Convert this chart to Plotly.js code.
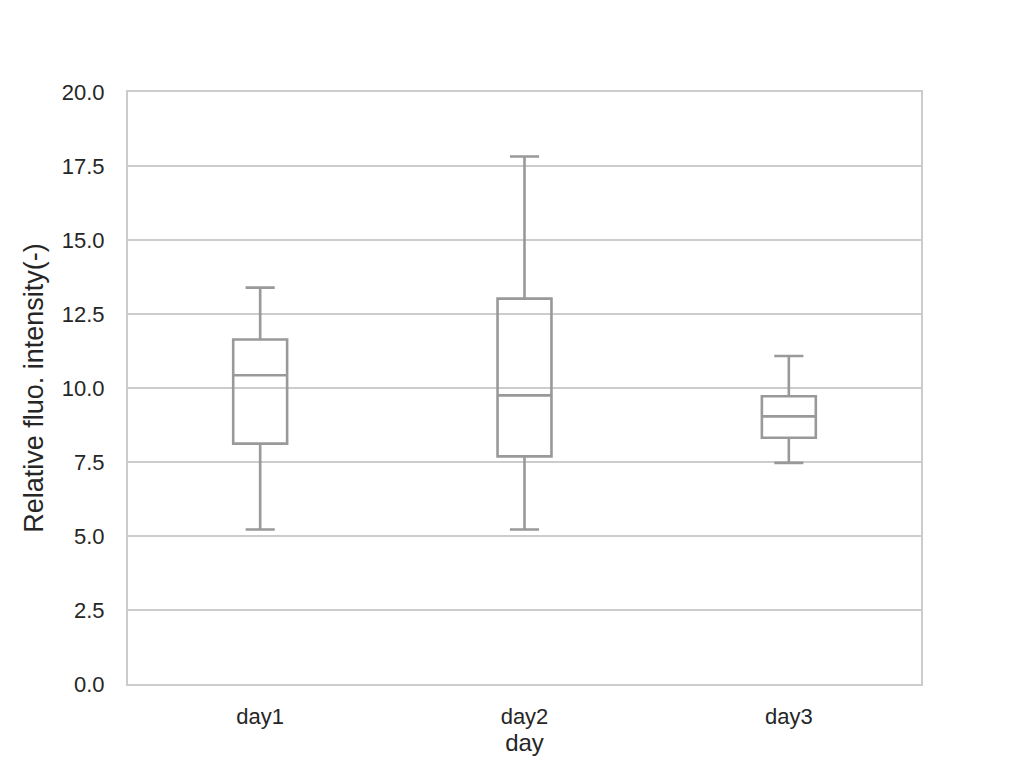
<!DOCTYPE html>
<html>
<head>
<meta charset="utf-8">
<script src="https://cdn.plot.ly/plotly-3.0.1.min.js"></script>
<style>html,body{margin:0;padding:0;background:#fff;}#chart{width:1024px;height:768px;}</style>
</head>
<body>
<div id="chart"></div>
<script>
const days = ["day1", "day2", "day3"];
const lowerWhisker = [5.22, 5.22, 7.47];
const q1 = [8.12, 7.69, 8.32];
const median = [10.43, 9.75, 9.04];
const q3 = [11.64, 13.02, 9.72];
const upperWhisker = [13.39, 17.82, 11.08];
const yTicks = [0, 2.5, 5, 7.5, 10, 12.5, 15, 17.5, 20];
const yTickLabels = ["0.0", "2.5", "5.0", "7.5", "10.0", "12.5", "15.0", "17.5", "20.0"];

const trace = {
  type: "box",
  x: days,
  q1: q1,
  median: median,
  q3: q3,
  lowerfence: lowerWhisker,
  upperfence: upperWhisker,
  boxpoints: false,
  width: 0.204,
  whiskerwidth: 0.54,
  fillcolor: "rgba(255,255,255,0)",
  line: {color: "#999999", width: 2.6},
  hoverinfo: "skip",
  showlegend: false
};

const font = {family: "Liberation Sans, Arial, sans-serif", size: 22, color: "#262626"};

const layout = {
  width: 1024, height: 768,
  margin: {l: 128, r: 103, t: 92, b: 84},
  paper_bgcolor: "#ffffff",
  plot_bgcolor: "#ffffff",
  font: font,
  showlegend: false,
  xaxis: {
    type: "category",
    range: [-0.5, 2.5],
    title: {text: "day", font: {size: 24, color: "#262626"}, standoff: 5},
    showgrid: false,
    zeroline: false,
    showline: true, mirror: true, linecolor: "#cccccc", linewidth: 2,
    ticks: "outside", ticklen: 12, tickcolor: "rgba(0,0,0,0)",
    tickfont: {size: 22, color: "#262626"}
  },
  yaxis: {
    range: [0, 20],
    tickvals: yTicks,
    ticktext: yTickLabels,
    title: {text: "Relative fluo. intensity(-)", font: {size: 27, color: "#262626"}, standoff: 10},
    showgrid: true, gridcolor: "#cccccc", gridwidth: 1.5,
    zeroline: false,
    showline: true, mirror: true, linecolor: "#cccccc", linewidth: 2,
    ticks: "outside", ticklen: 17, tickcolor: "rgba(0,0,0,0)",
    tickfont: {size: 22, color: "#262626"}
  }
};

Plotly.newPlot("chart", [trace], layout, {displayModeBar: false, staticPlot: true});
</script>
</body>
</html>
